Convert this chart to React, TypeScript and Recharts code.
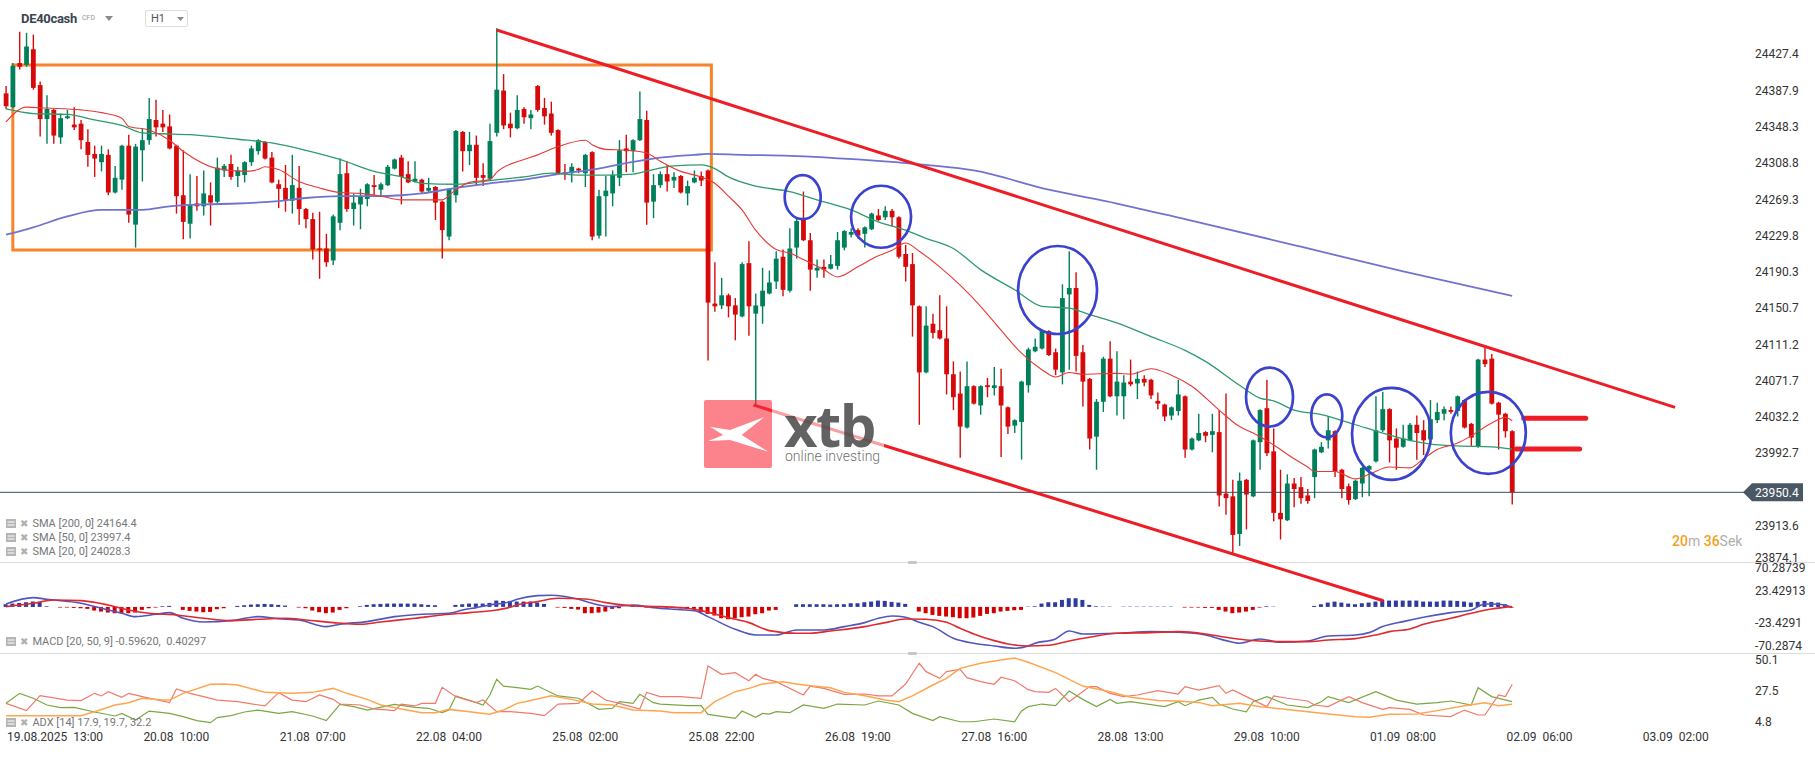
import React from 'react'
import {
  ComposedChart, Bar, Line, XAxis, YAxis, Cell,
  ReferenceLine, ReferenceArea, ReferenceDot,
} from 'recharts'

// ---- data (bar index = hourly candle) ----

// [open, high, low, close]
const OHLC = [
  [24385,24393,24368,24371],[24370,24418,24369,24415],[24418,24452,24411,24414],[24416,24451,24414,24436],
  [24433,24449,24389,24391],[24394,24398,24338,24357],[24357,24383,24330,24368],[24367,24368,24330,24339],
  [24337,24363,24330,24358],[24358,24367,24357,24360],[24351,24370,24345,24348],[24352,24356,24324,24334],
  [24332,24346,24305,24318],[24319,24328,24294,24314],[24310,24328,24300,24319],[24318,24324,24274,24277],
  [24277,24306,24276,24293],[24291,24329,24280,24328],[24328,24340,24244,24253],[24242,24330,24217,24327],
  [24323,24347,24289,24334],[24334,24380,24329,24357],[24356,24378,24338,24348],[24352,24367,24343,24348],
  [24349,24362,24324,24325],[24328,24329,24254,24273],[24274,24323,24226,24245],[24243,24297,24227,24264],
  [24265,24295,24257,24262],[24262,24301,24252,24276],[24274,24288,24241,24266],[24267,24315,24265,24304],
  [24301,24308,24294,24306],[24308,24318,24291,24294],[24295,24305,24283,24301],[24296,24311,24288,24310],
  [24310,24328,24306,24325],[24322,24335,24318,24334],[24332,24333,24313,24314],[24315,24321,24287,24288],
  [24286,24291,24260,24281],[24282,24307,24256,24269],[24268,24318,24254,24285],[24282,24306,24242,24259],
  [24259,24260,24238,24248],[24248,24255,24204,24215],[24216,24256,24183,24215],[24216,24232,24196,24201],
  [24203,24253,24198,24251],[24244,24314,24236,24297],[24298,24311,24256,24259],[24259,24276,24241,24266],
  [24264,24281,24237,24273],[24270,24287,24262,24286],[24285,24296,24274,24283],[24280,24288,24273,24286],
  [24285,24307,24284,24305],[24303,24314,24302,24313],[24315,24318,24264,24294],[24297,24311,24287,24288],
  [24289,24311,24288,24292],[24291,24292,24276,24278],[24279,24293,24277,24282],[24283,24284,24247,24266],
  [24267,24268,24205,24236],[24229,24282,24225,24281],[24274,24345,24266,24344],[24343,24344,24300,24322],
  [24322,24343,24307,24329],[24329,24339,24285,24293],[24296,24309,24284,24293],[24292,24352,24290,24333],
  [24342,24456,24338,24389],[24388,24406,24346,24350],[24352,24364,24337,24347],[24347,24383,24346,24367],
  [24368,24370,24352,24359],[24358,24367,24346,24362],[24393,24394,24365,24367],[24369,24380,24351,24360],
  [24363,24376,24339,24342],[24345,24346,24297,24298],[24299,24308,24291,24297],[24298,24309,24288,24305],
  [24303,24304,24298,24301],[24298,24319,24283,24318],[24321,24322,24225,24229],[24230,24280,24227,24273],
  [24273,24295,24229,24279],[24276,24301,24262,24296],[24293,24334,24284,24323],[24325,24340,24299,24322],
  [24322,24335,24299,24334],[24334,24387,24333,24357],[24356,24366,24242,24266],[24267,24297,24249,24285],
  [24285,24300,24282,24297],[24297,24307,24278,24289],[24290,24299,24282,24294],[24295,24296,24276,24277],
  [24276,24290,24263,24284],[24288,24301,24287,24293],[24295,24300,24284,24290],[24301,24302,24094,24157],
  [24156,24201,24147,24153],[24154,24184,24150,24165],[24165,24167,24141,24153],[24154,24162,24116,24144],
  [24142,24201,24141,24199],[24200,24224,24121,24153],[24145,24167,24045,24154],[24153,24195,24134,24170],
  [24167,24192,24166,24179],[24180,24213,24172,24205],[24207,24215,24164,24171],[24170,24238,24168,24216],
  [24217,24250,24205,24246],[24248,24278,24224,24225],[24225,24233,24170,24193],[24192,24204,24184,24195],
  [24196,24204,24184,24193],[24194,24209,24193,24199],[24197,24234,24193,24225],[24217,24236,24214,24235],
  [24231,24238,24228,24234],[24236,24238,24227,24230],[24232,24240,24217,24239],[24237,24255,24236,24254],
  [24252,24259,24246,24247],[24250,24262,24247,24257],[24257,24259,24240,24250],[24250,24251,24205,24207],
  [24210,24220,24180,24196],[24199,24211,24120,24154],[24153,24154,24024,24081],[24081,24153,24080,24132],
  [24134,24145,24118,24124],[24127,24165,24117,24118],[24118,24153,24057,24079],[24079,24093,24040,24054],
  [24058,24082,23988,24022],[24021,24093,24020,24066],[24066,24067,24046,24047],[24045,24067,24035,24066],
  [24067,24075,24054,24065],[24064,24087,24056,24067],[24066,24085,23989,24045],[24043,24044,24014,24022],
  [24023,24030,24015,24029],[24027,24072,23986,24071],[24067,24108,24059,24106],[24104,24118,24103,24109],
  [24107,24128,24106,24127],[24126,24127,24099,24100],[24103,24107,24078,24084],[24081,24177,24068,24162],
  [24166,24213,24084,24173],[24173,24190,24082,24099],[24103,24111,24044,24071],[24074,24075,23997,24009],
  [24011,24052,23975,24049],[24049,24098,24038,24096],[24096,24115,24054,24055],[24055,24104,24034,24071],
  [24055,24078,24030,24070],[24071,24095,24066,24068],[24069,24082,24052,24074],[24074,24078,24066,24070],
  [24073,24074,24052,24056],[24050,24059,24041,24047],[24046,24047,24028,24033],[24034,24044,24029,24043],
  [24039,24073,24034,24057],[24055,24056,23988,23997],[23997,24010,23996,24009],[24007,24036,24006,24015],
  [24016,24017,24005,24012],[24013,24036,23994,24017],[24016,24040,23935,23947],[23949,24058,23926,23944],
  [23946,23964,23884,23904],[23905,23972,23892,23963],[23964,23965,23910,23948],[23946,24008,23945,24007],
  [24005,24041,23975,24040],[24042,24073,23990,23993],[23995,24020,23919,23928],[23928,23975,23899,23921],
  [23920,23970,23919,23960],[23960,23966,23934,23954],[23956,23967,23938,23944],[23947,23954,23938,23941],
  [23967,23998,23944,23997],[23994,24005,23993,24000],[24007,24033,23998,24018],[24017,24018,23967,23973],
  [23975,23976,23944,23954],[23957,23960,23937,23942],[23943,23964,23942,23963],[23960,23978,23945,23977],
  [23975,23980,23946,23979],[23984,24055,23983,24018],[24018,24060,24016,24041],[24041,24042,23983,24007],
  [24009,24020,23975,23999],[24000,24024,23999,24009],[24007,24026,24006,24024],[24024,24034,23986,24015],
  [24018,24029,23991,24007],[24008,24051,24007,24030],[24029,24048,24026,24038],[24036,24044,24029,24041],
  [24040,24044,24036,24038],[24039,24056,24033,24055],[24051,24052,24020,24021],[24025,24026,24001,24010],
  [24000,24096,23999,24095],[24095,24109,24087,24090],[24096,24101,24046,24047],[24048,24049,23997,24035],
  [24036,24037,24010,24017],[24017,24018,23937,23950.4],
]

// [bar index, value]
const SMA20 = [
  [0,24354],[3,24370],[6,24369],[11,24367],[14,24364],[17,24358],[18,24349],[21,24345],[24,24334],[26,24322],
  [31,24303],[35,24300],[37,24302],[38,24305],[40,24302],[43,24289],[46,24282],[49,24277],[52,24276],[55,24273],
  [58,24269],[64,24269],[66,24280],[68,24288],[71,24291],[72,24299],[76,24313],[78,24318],[81,24327],[85,24334],
  [86,24329],[88,24324],[91,24323],[94,24320],[96,24311],[99,24300],[102,24294],[104,24287],[106,24273],[108,24258],
  [110,24236],[113,24215],[115,24211],[117,24204],[120,24193],[122,24185],[125,24196],[128,24208],[130,24214],[132,24222],
  [134,24213],[137,24196],[140,24176],[143,24153],[146,24127],[149,24102],[152,24084],[154,24076],[156,24081],[158,24079],
  [163,24080],[165,24079],[168,24085],[171,24078],[174,24066],[178,24040],[181,24022],[183,24015],[186,24002],[189,23987],
  [191,23978],[192,23973],[195,23973],[198,23965],[200,23970],[203,23978],[206,23977],[208,23987],[210,23997],[213,24004],
  [215,24012],[218,24026],[220,24032],[221,24028.3],
]
const SMA50 = [
  [0,24368],[4,24363],[9,24362],[13,24356],[17,24350],[20,24342],[23,24341],[27,24340],[34,24335],[39,24331],
  [44,24323],[49,24313],[54,24300],[58,24294],[61,24287],[66,24286],[71,24290],[76,24294],[80,24298],[84,24296],
  [88,24296],[92,24297],[95,24302],[98,24306],[102,24307],[104,24303],[106,24294],[110,24284],[115,24278],[119,24269],
  [124,24258],[128,24245],[132,24236],[135,24227],[139,24216],[143,24193],[148,24171],[152,24153],[156,24151],[159,24144],
  [163,24135],[168,24120],[173,24105],[176,24093],[181,24067],[184,24053],[186,24050],[189,24040],[193,24035],[198,24024],
  [202,24015],[206,24007],[209,24003],[213,24001],[218,24000],[221,23997.4],
]
const SMA200 = [
  [0,24231],[4,24239],[9,24251],[14,24258],[20,24258],[24,24262],[29,24264],[34,24265],[39,24267],[44,24271],
  [49,24273],[54,24273],[58,24274],[61,24276],[66,24282],[71,24287],[76,24291],[81,24297],[86,24302],[91,24309],
  [96,24315],[101,24318],[103,24319],[108,24318],[115,24317],[125,24313],[135,24307],[142,24301],[153,24280],[163,24265],
  [173,24248],[190,24218],[205,24191],[221,24164.4],
]

const MACD = [
  [0,4.4],[4,13.9],[6,11.4],[11,5.4],[14,-2.1],[17,-9.6],[19,-14.6],[22,-11.1],[24,-8.6],[26,-17.1],
  [29,-22.6],[33,-20.6],[37,-14.6],[40,-17.6],[43,-19.6],[47,-29.6],[49,-26.1],[53,-22.1],[57,-14.6],[62,-10.6],
  [65,-9.6],[67,-4.6],[69,-1.1],[71,2.9],[74,7.9],[75,11.4],[78,16.9],[80,17.4],[84,11.4],[86,5.4],
  [89,0.4],[92,2.9],[95,-1.1],[98,-3.6],[101,-5.6],[103,-14.6],[107,-33.6],[110,-42.1],[113,-42.1],[116,-34.6],
  [120,-34.6],[123,-29.6],[126,-23.6],[128,-17.1],[130,-13.6],[132,-15.6],[134,-23.1],[136,-29.6],[139,-47.1],[142,-54.6],
  [145,-58.6],[148,-62.1],[150,-58.6],[151,-54.6],[154,-48.1],[156,-36.1],[158,-40.6],[163,-39.6],[168,-37.1],[172,-38.1],
  [176,-42.1],[179,-50.6],[181,-54.6],[184,-48.1],[187,-53.1],[191,-51.1],[194,-43.6],[198,-42.1],[200,-38.6],[202,-29.6],
  [205,-22.1],[208,-15.6],[212,-8.6],[215,-4.6],[217,4.4],[219,3.9],[221,-0.6],
]
const SIGNAL = [
  [0,0.4],[4,5.4],[7,10.4],[11,9.4],[15,2.9],[18,-4.6],[21,-9.6],[25,-12.1],[29,-17.1],[33,-20.6],
  [37,-18.6],[41,-17.1],[44,-19.6],[48,-23.6],[52,-26.1],[55,-22.6],[60,-17.1],[64,-12.1],[68,-8.6],[72,-4.6],
  [74,-0.6],[75,2.9],[78,7.9],[81,12.9],[85,11.9],[88,6.4],[92,1.4],[96,0.4],[100,-2.1],[102,-5.6],
  [106,-16.1],[109,-23.6],[112,-35.6],[116,-39.6],[118,-39.6],[121,-36.1],[126,-29.6],[129,-23.6],[132,-18.1],[135,-18.6],
  [138,-23.1],[140,-32.1],[142,-40.6],[145,-50.6],[147,-55.6],[150,-58.6],[153,-57.6],[156,-51.1],[159,-45.6],[163,-39.6],
  [168,-38.6],[172,-37.1],[176,-40.6],[179,-45.6],[182,-49.6],[187,-52.1],[191,-52.1],[194,-49.6],[198,-47.6],[201,-42.1],
  [203,-37.1],[206,-33.1],[208,-26.1],[212,-17.1],[215,-9.6],[218,-3.1],[221,0.4],
]
const HIST = [
  4,5,6,7,8,7,1,0,-1,-1,
  -1.5,-2,-3,-5.5,-7,-8.5,-9.5,-9.5,-9.5,-8.5,
  -4.5,-2,-1,1,1.5,0,-4.5,-6,-7,-8,
  -7.5,-3.5,-2,0,1.5,2.5,3.5,4,4.5,4,
  3,2,0,-1,-2,-5.5,-8,-9.5,-8.5,-4.5,
  -2,0,1,3,4,4.5,5,5,5,5,
  5,4,3,2.5,0,0,3,4,5,5,
  5,6,9.5,9,8.5,8,8,8,6.5,4.5,
  0,-1,-1.5,-3,-4,-9.5,-9.5,-8.5,-7,-3,
  -2,0,2,1.5,-1,-1,1,-1,-1,-2,
  -3,-3,-8,-10.5,-13,-17,-18.5,-17,-15.5,-14.5,
  -11,-9.5,-5.5,-4.5,0,0,4,4,4,4,
  4,3.5,4,4,5.5,5.5,7,8,9.5,9,
  7.5,6.5,4.5,0,-7,-9.5,-12,-13.5,-14.5,-15.5,
  -17,-17,-16,-13.5,-10.5,-9.5,-7,-6,-5,-4.5,
  0.5,1,5,7,7,10.5,13,13,10.5,3,
  1,0.5,0.5,0,0.5,0.5,0.5,0.5,0.5,0.5,
  0.5,0.5,0,-1,-1,-1,-1.5,-1.5,-4.5,-7,
  -9.5,-8.5,-7,-4.5,-1,1,0.5,0,0,0,
  0,0,1.5,4,6.5,8,6.5,5,4,5.5,
  6.5,8,10.5,9.5,9.5,9.5,9.5,9.5,8,8,
  8,9.5,9.5,9,8,6.5,7.5,9,7.5,6.5,
  4,-1,
]

const ADX = [
  [0,9.5],[4,9.5],[11,9.5],[13,12.4],[16,17.3],[18,19],[20,22.2],[23,20.9],[24,20.9],[26,25.8],
  [30,32.4],[32,32.6],[34,31.9],[38,26.5],[42,25.8],[45,26.5],[48,29.4],[50,25.8],[53,21.4],[55,17.3],
  [58,14.4],[61,11.7],[63,11.7],[65,14.1],[68,12.4],[71,10.5],[73,13.6],[75,18.5],[77,20.5],[80,24.1],
  [83,21.4],[86,18],[89,17.3],[92,13.6],[96,12.9],[98,11.7],[102,11.7],[104,19.7],[107,27],[109,29.4],
  [111,32.6],[114,34.3],[116,32.6],[118,31.4],[121,29.9],[123,26.5],[126,24.1],[129,20.9],[131,19.7],[133,23.9],
  [136,31.9],[138,36.7],[140,44],[143,47.7],[146,50.1],[148,51.5],[150,48.5],[154,40.9],[158,31.1],[162,27],
  [165,22.9],[169,20.5],[172,20.2],[175,19.2],[177,16.8],[181,18.5],[184,16.1],[188,14.1],[193,11.2],[198,8.8],
  [200,8.3],[203,10.5],[207,10.7],[210,13.2],[214,16.8],[217,19],[219,16.8],[221,17.9],
]
const MINUS_DI = [
  [0,18.5],[3,13.2],[5,24.1],[9,20.9],[11,20.5],[13,25.8],[14,23.9],[15,27],[17,22.9],[18,25.8],
  [20,23.4],[24,19],[25,29],[27,25.8],[29,23.4],[31,20.9],[34,19.7],[38,16.6],[40,26.3],[42,20.9],
  [44,19.7],[46,24.6],[48,21.4],[49,18],[52,17.3],[54,14.4],[57,13.2],[58,18],[60,16.6],[61,18.5],
  [63,18.5],[64,30.2],[66,23.4],[69,19],[70,20.9],[72,12.4],[74,12.4],[77,11.2],[79,9.5],[81,18],
  [84,18.5],[86,27.5],[88,20.9],[90,18.5],[93,14.4],[94,26.5],[96,23.4],[99,23.4],[102,22.2],[103,45.7],
  [105,39.7],[107,40.9],[109,35],[110,39.7],[111,36.7],[113,34.3],[117,24.6],[118,31.1],[120,29.4],[123,25.1],
  [126,25.3],[128,23.9],[130,23.9],[132,32.6],[134,47.7],[135,41.6],[137,36.7],[138,41.6],[140,43.3],[141,37.2],
  [143,34.3],[145,32.4],[146,37.5],[148,35],[150,28.5],[151,27],[153,26.5],[154,29.4],[156,19.7],[159,30.7],
  [160,30.7],[162,25.8],[164,23.4],[166,24.6],[169,27.7],[172,25.3],[173,30.7],[175,28.2],[178,31.4],[179,25.8],
  [180,28.2],[182,23.4],[185,16.1],[186,23.9],[188,22.2],[191,20.2],[192,17.3],[194,16.1],[197,23.4],[199,19],
  [202,14.1],[203,15.4],[206,14.1],[208,10],[212,8.8],[214,13.6],[216,10],[217,10],[219,24.6],[220,23.4],
  [221,32.2],
]
const PLUS_DI = [
  [0,18.5],[2,25.8],[4,22.2],[6,17.3],[8,15.4],[10,15.6],[13,12.2],[16,9.3],[17,11.2],[19,6.4],
  [21,12.9],[24,11.2],[26,8.8],[28,5.9],[30,4.4],[31,8.1],[33,9.5],[35,12.2],[37,13.6],[40,11.2],
  [42,12.4],[45,9.3],[47,5.9],[49,17.8],[51,16.1],[53,13.6],[57,17.8],[60,15.6],[62,14.9],[64,11.7],
  [65,13.6],[66,23.9],[69,19],[70,17.3],[71,24.6],[72,36],[73,31.1],[75,30],[77,28.7],[78,31.1],
  [81,23.9],[84,22.2],[87,14.1],[89,14.9],[90,19.7],[92,18.5],[93,25.1],[95,19],[96,18],[100,16.8],
  [102,16.8],[103,10.5],[107,7.6],[108,12.9],[110,8.3],[111,11.2],[112,10.7],[113,12.4],[115,11.7],[117,17.3],
  [120,14.9],[122,18],[126,17.3],[128,20.2],[131,17.3],[133,11.2],[136,5.9],[137,8.8],[140,5.1],[142,5.1],
  [145,7.1],[148,5.1],[149,13],[150,16.1],[152,18],[154,16.8],[156,27.5],[158,21.4],[160,16.1],[162,21.4],
  [163,18.5],[165,19.7],[170,16.1],[172,19.7],[173,16.8],[175,20.9],[177,22.9],[178,18],[180,14.4],[182,12.4],
  [183,19.7],[185,23.4],[188,17.3],[191,15.4],[193,19.7],[194,23.4],[197,19],[201,27],[204,20.9],[207,18],
  [210,19],[212,20.2],[215,17.3],[216,29.9],[218,23.4],[221,19.7],
]

const LAST_PRICE = 23950.4
const PRICE_TICKS = [23874.1, 23913.6, 23992.7, 24032.2, 24071.7, 24111.2, 24150.7, 24190.3,
  24229.8, 24269.3, 24308.8, 24348.3, 24387.9, 24427.4]
const MACD_TICKS = [58.4, 23.43, -23.43, -58.7]
const MACD_TICK_LABELS = ['70.28739', '23.42913', '-23.4291', '-70.2874']
const ADX_TICKS = [50.1, 27.5, 4.8]
const TIME_TICKS = [5, 25, 45, 65, 85, 105, 125, 145, 165, 185, 205, 225, 245]
const TIME_LABELS = ['19.08.2025  13:00', '20.08  10:00', '21.08  07:00', '22.08  04:00', '25.08  02:00',
  '25.08  22:00', '26.08  19:00', '27.08  16:00', '28.08  13:00', '29.08  10:00', '01.09  08:00',
  '02.09  06:00', '03.09  02:00']

// drawings on the price panel: [bar, price]
const BOX = { x1: 1, x2: 103.5, y1: 24214.5, y2: 24416 }
const UPPER_TREND = [[72, 24454], [244.9, 24043]]
const LOWER_TREND = [[109.7, 24045.5], [202.1, 23832.3]]
const LEVEL_MARKS = [[222.7, 231.8, 24031], [221.6, 230.9, 23997.6]]
// [bar, price, rx, ry]
const CIRCLES = [
  [116.9, 24271.9, 18, 22], [128.4, 24250.6, 30, 31], [154.3, 24170.8, 39.5, 44],
  [185.4, 24054.2, 23.5, 29.5], [193.8, 24033.7, 15.5, 21.5], [203.3, 24014.1, 39.5, 46],
  [217.5, 24015.2, 37.5, 41],
]

// ---- layout ----
const W = 1815
const AXIS_W = 65
const X_DOMAIN = [-0.88, 255.9]
const FONT = 'Roboto, "Noto Sans", sans-serif'
const GREEN = '#00805a'
const RED = '#d60a0a'
const TREND_RED = '#ee1c25'

const pts = (arr) => arr.map(([i, v]) => ({ i, v }))
const candleRows = OHLC.map(([o, h, l, c], i) => ({ i, o, h, l, c, range: [l, h] }))
const histRows = HIST.map((v, i) => ({ i, v }))

function Candle(props) {
  const { x, y, width, height, payload } = props
  const { o, h, l, c } = payload
  const top = Math.min(y, y + height)
  const bottom = Math.max(y, y + height)
  const py = (v) => top + ((h - v) / (h - l)) * (bottom - top)
  const cx = x + width / 2
  const color = c >= o ? GREEN : RED
  const bTop = py(Math.max(o, c))
  const bBot = py(Math.min(o, c))
  return (
    <g>
      <line x1={cx} x2={cx} y1={top} y2={bottom} stroke={color} strokeWidth={1.4} />
      <rect x={cx - 2.4} y={bTop} width={4.8} height={Math.max(1.4, bBot - bTop)} fill={color} />
    </g>
  )
}

const PriceTick = ({ x, y, payload }) => (
  <text x={x} y={Math.min(y, 557.5)} dy={4} fontSize={12} fill="#333" textAnchor="start" fontFamily={FONT}>
    {payload.value.toFixed(1)}
  </text>
)

const MacdTick = ({ x, y, index }) => (
  <text x={x} y={y} dy={4} fontSize={12} fill="#333" textAnchor="start" fontFamily={FONT}>
    {MACD_TICK_LABELS[index]}
  </text>
)

const AdxTick = ({ x, y, payload }) => (
  <text x={x} y={y} dy={4} fontSize={12} fill="#333" textAnchor="start" fontFamily={FONT}>
    {payload.value}
  </text>
)

const TimeTick = ({ x, y, index }) => {
  const first = index === 0
  return (
    <text x={first ? 7 : x} y={y + 13} fontSize={12} fill="#333" fontFamily={FONT}
      textAnchor={first ? 'start' : 'middle'} style={{ whiteSpace: 'pre' }}>
      {TIME_LABELS[index]}
    </text>
  )
}

const PriceTag = ({ cx, cy }) => (
  <g>
    <polygon points={`${cx - 7},${cy} ${cx + 2},${cy - 9} ${cx + 53},${cy - 9} ${cx + 53},${cy + 9} ${cx + 2},${cy + 9}`}
      fill="#4a5864" />
    <text x={cx + 5} y={cy + 4.5} fontSize={12} fill="#fff" fontFamily={FONT}>{LAST_PRICE.toFixed(1)}</text>
  </g>
)

function MenuIcon() {
  return (
    <svg width={10} height={9} style={{ marginRight: 4 }}>
      <rect x={0} y={0} width={10} height={9} fill="#b5b5b5" />
      <rect x={1.5} y={2.5} width={7} height={1} fill="#fff" />
      <rect x={1.5} y={5.5} width={7} height={1} fill="#fff" />
    </svg>
  )
}

function Legend({ top, text }) {
  return (
    <div style={{
      position: 'absolute', left: 6, top: top - 7, height: 14, display: 'flex', alignItems: 'center',
      fontSize: 11, color: '#777', whiteSpace: 'pre', zIndex: 3,
    }}>
      <MenuIcon />
      <span style={{ color: '#b0b0b0', fontSize: 10, marginRight: 4, fontFamily: 'DejaVu Sans' }}>✖</span>
      <span>{text}</span>
    </div>
  )
}

// watermark, drawn above the price panel (origin at page 700,375)
function Logo() {
  return (
    <svg width={200} height={100} style={{ position: 'absolute', left: 700, top: 375, zIndex: 4, overflow: 'visible' }}>
      <rect x={72} y={25} width={112} height={68} fill="rgba(255,255,255,0.58)" />
      <rect x={4} y={25} width={68} height={68} rx={2} fill="rgba(250,40,55,0.58)" />
      <polygon points="10,51.7 30,55 64,42.3 41.7,60 68.3,76.7 30,65 8.3,66 23.3,60" fill="#fff" />
      <text x={84} y={72} fontSize={58} fontWeight={700} fill="rgba(70,70,70,0.85)" fontFamily='"Open Sans", sans-serif'
        letterSpacing={-1.5}>xtb</text>
      <text x={85} y={86} fontSize={14} fontWeight={300} fill="rgba(80,80,80,0.85)" fontFamily={FONT}>online investing</text>
    </svg>
  )
}

const lineProps = { dot: false, activeDot: false, isAnimationActive: false, dataKey: 'v' }

export default function App() {
  return (
    <div style={{
      position: 'absolute', left: 0, top: 0, width: W, height: 761, background: '#fff',
      overflow: 'hidden', fontFamily: FONT,
    }}>
      <style>{'.recharts-surface{overflow:visible}'}</style>

      {/* MACD panel */}
      <div style={{ position: 'absolute', left: 0, top: 563, zIndex: 1 }}>
        <ComposedChart width={W} height={90} data={histRows} margin={{ top: 0, right: 0, bottom: 0, left: 0 }}>
          <XAxis type="number" dataKey="i" domain={X_DOMAIN} hide allowDataOverflow />
          <YAxis orientation="right" width={AXIS_W} domain={[-69.2, 65.9]} ticks={MACD_TICKS} interval={0}
            axisLine={false} tickLine={false} tickSize={0} tickMargin={5} tick={(p) => <MacdTick {...p} />}
            allowDataOverflow />
          <Bar dataKey="v" barSize={4} isAnimationActive={false} activeBar={false}>
            {histRows.map((r) => <Cell key={r.i} fill={r.v >= 0 ? '#2f3a9f' : '#d40000'} />)}
          </Bar>
          <Line {...lineProps} data={pts(MACD)} type="monotone" stroke="#5156bd" strokeWidth={1.6} />
          <Line {...lineProps} data={pts(SIGNAL)} type="monotone" stroke="#e0282e" strokeWidth={1.6} />
        </ComposedChart>
      </div>

      {/* ADX panel + time axis */}
      <div style={{ position: 'absolute', left: 0, top: 653, zIndex: 1 }}>
        <ComposedChart width={W} height={108} margin={{ top: 0, right: 0, bottom: 0, left: 0 }}>
          <XAxis type="number" dataKey="i" domain={X_DOMAIN} ticks={TIME_TICKS} interval={0} height={33}
            axisLine={false} tickLine={false} tickSize={0} tickMargin={0} tick={(p) => <TimeTick {...p} />}
            allowDataOverflow />
          <YAxis orientation="right" width={AXIS_W} domain={[0.53, 55.2]} ticks={ADX_TICKS} interval={0}
            axisLine={false} tickLine={false} tickSize={0} tickMargin={5} tick={(p) => <AdxTick {...p} />}
            allowDataOverflow />
          <Line {...lineProps} data={pts(PLUS_DI)} type="linear" stroke="#79a843" strokeWidth={1.2} />
          <Line {...lineProps} data={pts(MINUS_DI)} type="linear" stroke="#f2786a" strokeWidth={1.2} />
          <Line {...lineProps} data={pts(ADX)} type="linear" stroke="#ffa54f" strokeWidth={1.5} />
        </ComposedChart>
      </div>

      {/* price panel */}
      <div style={{ position: 'absolute', left: 0, top: 0, zIndex: 2 }}>
        <ComposedChart width={W} height={563} data={candleRows} margin={{ top: 0, right: 0, bottom: 0, left: 0 }}>
          <XAxis type="number" dataKey="i" domain={X_DOMAIN} hide allowDataOverflow />
          <YAxis orientation="right" width={AXIS_W} domain={[23873.4, 24486.7]} ticks={PRICE_TICKS} interval={0}
            axisLine={false} tickLine={false} tickSize={0} tickMargin={5} tick={(p) => <PriceTick {...p} />}
            allowDataOverflow />
          <ReferenceLine y={LAST_PRICE} stroke="#3e4b56" strokeWidth={1} ifOverflow="visible" />
          <Bar dataKey="range" shape={Candle} barSize={5} isAnimationActive={false} activeBar={false} />
          <Line {...lineProps} data={pts(SMA200)} type="monotone" stroke="#7074cf" strokeWidth={1.8} />
          <Line {...lineProps} data={pts(SMA50)} type="monotone" stroke="#2f9a6c" strokeWidth={1.3} />
          <Line {...lineProps} data={pts(SMA20)} type="monotone" stroke="#e53935" strokeWidth={1.1} />
          <ReferenceArea x1={BOX.x1} x2={BOX.x2} y1={BOX.y1} y2={BOX.y2} fill="none" fillOpacity={0}
            stroke="#f7842a" strokeWidth={3} ifOverflow="visible" />
          <ReferenceLine segment={UPPER_TREND.map(([x, y]) => ({ x, y }))} stroke={TREND_RED} strokeWidth={3}
            ifOverflow="visible" />
          <ReferenceLine segment={LOWER_TREND.map(([x, y]) => ({ x, y }))} stroke={TREND_RED} strokeWidth={3}
            ifOverflow="visible" />
          {LEVEL_MARKS.map(([a, b, y], k) => (
            <ReferenceLine key={`lv${k}`} segment={[{ x: a, y }, { x: b, y }]} stroke={TREND_RED} strokeWidth={5}
              strokeLinecap="round" ifOverflow="visible" />
          ))}
          {CIRCLES.map(([x, y, rx, ry], k) => (
            <ReferenceDot key={`c${k}`} x={x} y={y} r={rx} ifOverflow="visible"
              shape={(p) => <ellipse cx={p.cx} cy={p.cy} rx={rx} ry={ry} fill="none" stroke="#3b42cc" strokeWidth={2.7} />} />
          ))}
          <ReferenceDot x={X_DOMAIN[1]} y={LAST_PRICE} r={1} ifOverflow="visible" shape={(p) => <PriceTag {...p} />} />
        </ComposedChart>
      </div>

      {/* panel separators */}
      <div style={{ position: 'absolute', left: 0, top: 562, width: W, height: 1, background: '#dcdcdc' }} />
      <div style={{ position: 'absolute', left: 0, top: 653, width: W, height: 1, background: '#dcdcdc' }} />
      <div style={{ position: 'absolute', left: 908, top: 561, width: 9, height: 3, background: '#c8c8c8', borderRadius: 1 }} />
      <div style={{ position: 'absolute', left: 908, top: 652, width: 9, height: 3, background: '#c8c8c8', borderRadius: 1 }} />

      <Legend top={523} text="SMA [200, 0] 24164.4" />
      <Legend top={537} text="SMA [50, 0] 23997.4" />
      <Legend top={551} text="SMA [20, 0] 24028.3" />
      <Legend top={641.5} text="MACD [20, 50, 9] -0.59620,  0.40297" />
      <Legend top={722.5} text="ADX [14] 17.9, 19.7, 32.2" />

      {/* header */}
      <div style={{ position: 'absolute', left: 21, top: 10, height: 16, display: 'flex', alignItems: 'center', zIndex: 3 }}>
        <span style={{ fontSize: 13, fontWeight: 700, color: '#3a4450', letterSpacing: -0.3 }}>DE40cash</span>
        <span style={{ fontSize: 7, color: '#999', marginLeft: 5 }}>CFD</span>
        <svg width={8} height={5} style={{ marginLeft: 10 }}><polygon points="0,0 8,0 4,5" fill="#8a8a8a" /></svg>
      </div>
      <div style={{
        position: 'absolute', left: 145, top: 10, width: 41, height: 15, border: '1px solid #dedede', borderRadius: 2,
        display: 'flex', alignItems: 'center', zIndex: 3, background: '#fff',
      }}>
        <span style={{ fontSize: 11, color: '#555', marginLeft: 5 }}>H1</span>
        <svg width={7} height={4} style={{ marginLeft: 12 }}><polygon points="0,0 7,0 3.5,4" fill="#8a8a8a" /></svg>
      </div>

      {/* countdown */}
      <div style={{ position: 'absolute', left: 1672, top: 533, fontSize: 14, lineHeight: '16px', fontWeight: 500, zIndex: 3 }}>
        <span style={{ color: '#f5a01a' }}>20</span><span style={{ color: '#b0b0b0', fontWeight: 400 }}>m </span>
        <span style={{ color: '#f5a01a' }}>36</span><span style={{ color: '#b0b0b0', fontWeight: 400 }}>Sek</span>
      </div>

      <Logo />
    </div>
  )
}
